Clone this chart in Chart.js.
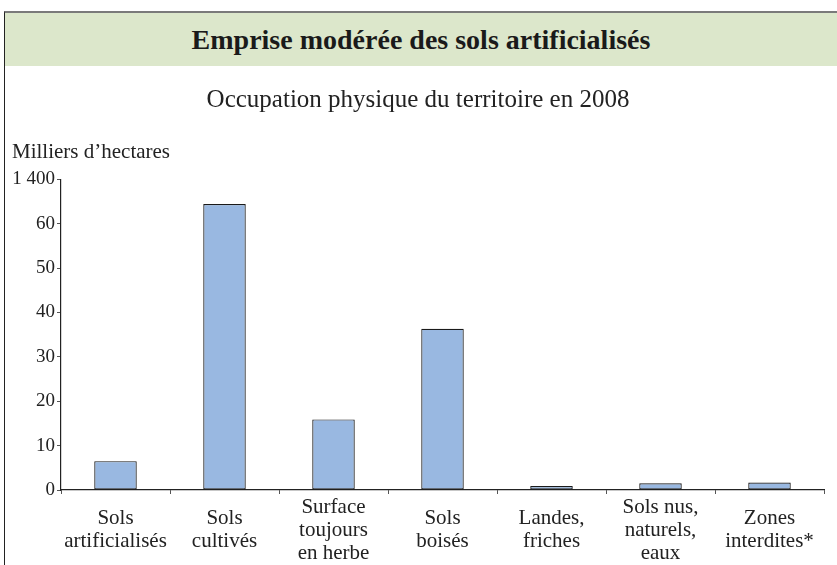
<!DOCTYPE html>
<html>
<head>
<meta charset="utf-8">
<script src="https://cdn.jsdelivr.net/npm/chart.js@4.4.1/dist/chart.umd.min.js"></script>
<style>
  html, body { margin: 0; padding: 0; background: #fff; }
  body { width: 837px; height: 565px; position: relative; overflow: hidden; }
  #frame { position: absolute; left: 4px; top: 11px; width: 833px; height: 554px;
    border-left: 1.5px solid #222; border-top: 2px solid #7a7a7a; }
  #header { position: absolute; left: 5px; top: 13px; width: 832px; height: 53px;
    background: #dce7cb; text-align: center;
    font-family: "Liberation Serif", "Times New Roman", serif; font-weight: bold;
    font-size: 28px; line-height: 54px; color: #1a1a1a; }
  #chart-box { position: absolute; left: 5px; top: 66px; width: 832px; height: 499px; }
</style>
</head>
<body>
<div id="frame"></div>
<div id="header">Emprise modérée des sols artificialisés</div>
<div id="chart-box"><canvas id="land-chart"></canvas></div>
<script>
let landCategories = [
  ["Sols", "artificialisés"],
  ["Sols", "cultivés"],
  ["Surface", "toujours", "en herbe"],
  ["Sols", "boisés"],
  ["Landes,", "friches"],
  ["Sols nus,", "naturels,", "eaux"],
  ["Zones", "interdites*"],
];

let landValues = [6.5, 64.4, 15.9, 36.3, 0.9, 1.5, 1.7];

let yTickValues = [0, 10, 20, 30, 40, 50, 60, 70];
let yTickLabels = ["0", "10", "20", "30", "40", "50", "60", "1 400"];

let serif = "'Liberation Serif', 'Times New Roman', serif";
let inkColor = "#222";

let landChart = new Chart("land-chart", {
  type: "bar",
  data: {
    labels: landCategories,
    datasets: [
      {
        label: "",
        data: landValues,
        backgroundColor: "#99b8e1",
        borderColor: "#1a1a1a",
        borderWidth: 1.2,
        borderSkipped: false,
        barPercentage: 0.39,
        categoryPercentage: 1,
      },
    ],
  },
  options: {
    responsive: true,
    maintainAspectRatio: false,
    animation: false,
    layout: {
      padding: { left: 7, right: 13, top: 0, bottom: 0 },
    },
    plugins: {
      legend: { display: false },
      tooltip: { enabled: false },
      title: {
        display: true,
        text: "Occupation physique du territoire en 2008",
        color: inkColor,
        font: { family: serif, size: 25, weight: "normal" },
        padding: { top: 19, bottom: 12 },
      },
      subtitle: {
        display: true,
        text: "Milliers d\u2019hectares",
        align: "start",
        color: inkColor,
        font: { family: serif, size: 21, weight: "normal" },
        padding: { top: 13, bottom: 14 },
      },
    },
    scales: {
      x: {
        afterFit: (scale) => {
          scale.height = 75;
        },
        grid: {
          drawOnChartArea: false,
          drawTicks: true,
          tickLength: 4,
          color: "#555",
        },
        border: { color: inkColor, width: 1.2 },
        ticks: {
          color: inkColor,
          maxRotation: 0,
          autoSkip: false,
          padding: 13,
          crossAlign: "center",
          font: { family: serif, size: 21, lineHeight: 1.1 },
        },
      },
      y: {
        min: 0,
        max: 70,
        afterFit: (scale) => {
          scale.width = 49;
        },
        afterBuildTicks: (scale) => {
          scale.ticks = yTickValues.map((v) => ({ value: v }));
        },
        grid: {
          drawOnChartArea: false,
          drawTicks: true,
          tickLength: 4,
          color: "#555",
        },
        border: { color: inkColor, width: 1.2 },
        ticks: {
          color: inkColor,
          padding: 2,
          font: { family: serif, size: 19 },
          callback: function (value) {
            let i = yTickValues.indexOf(value);
            return i >= 0 ? yTickLabels[i] : "";
          },
        },
      },
    },
  },
});
</script>
</body>
</html>
